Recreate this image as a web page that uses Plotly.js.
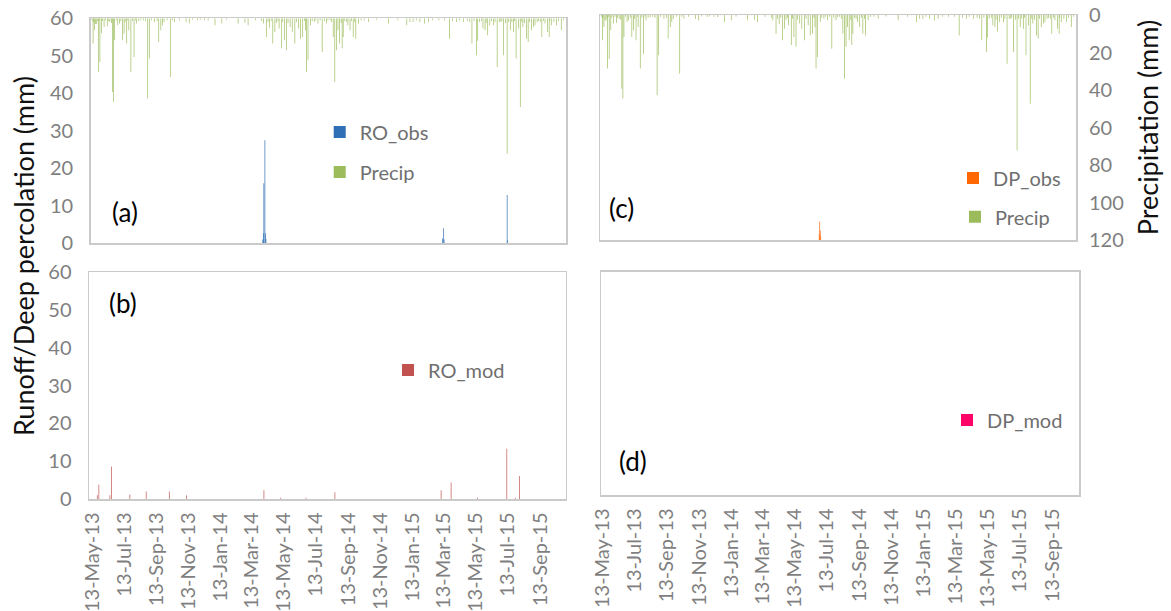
<!DOCTYPE html>
<html><head><meta charset="utf-8">
<script src="https://cdn.plot.ly/plotly-3.0.1.min.js"></script>
<style>html,body{margin:0;padding:0;background:#fff}#chart{width:1171px;height:611px}</style>
</head><body><div id="chart"></div>
<script>
// ---------------- data ----------------
const precipDates = [
'2013-05-13','2013-05-15','2013-05-16','2013-05-18','2013-05-20','2013-05-22','2013-05-24','2013-05-25','2013-05-27','2013-05-28','2013-05-31',
'2013-06-02','2013-06-05','2013-06-08','2013-06-11','2013-06-13','2013-06-16','2013-06-19','2013-06-21','2013-06-23','2013-06-25','2013-06-28',
'2013-07-01','2013-07-04','2013-07-07','2013-07-10','2013-07-13','2013-07-15','2013-07-18','2013-07-20','2013-07-22','2013-07-26','2013-07-29',
'2013-08-01','2013-08-04','2013-08-06','2013-08-10','2013-08-14','2013-08-19','2013-08-23','2013-08-27','2013-08-30',
'2013-09-03','2013-09-09','2013-09-14','2013-09-17','2013-09-21','2013-09-24','2013-09-27',
'2013-10-03','2013-10-09','2013-10-13','2013-10-17','2013-10-26','2013-11-08','2013-11-14','2013-11-20','2013-11-30','2013-12-05','2013-12-13','2013-12-20',
'2014-01-02','2014-01-15','2014-01-24','2014-02-15','2014-02-28','2014-03-06','2014-03-20',
'2014-04-01','2014-04-04','2014-04-10','2014-04-13','2014-04-16','2014-04-19','2014-04-22','2014-04-26','2014-04-29',
'2014-05-02','2014-05-04','2014-05-09','2014-05-11','2014-05-14','2014-05-18','2014-05-21','2014-05-25','2014-05-29',
'2014-06-03','2014-06-06','2014-06-10','2014-06-14','2014-06-18','2014-06-21','2014-06-23','2014-06-25','2014-06-28',
'2014-07-03','2014-07-06','2014-07-10','2014-07-13','2014-07-17','2014-07-21','2014-07-25','2014-07-29',
'2014-08-02','2014-08-05','2014-08-09','2014-08-12','2014-08-15','2014-08-18','2014-08-21','2014-08-24','2014-08-27','2014-08-30',
'2014-09-01','2014-09-03','2014-09-06','2014-09-09','2014-09-12','2014-09-16','2014-09-19','2014-09-22','2014-09-25','2014-09-27',
'2014-10-02','2014-10-07','2014-10-13','2014-10-21','2014-11-05','2014-11-28','2014-12-16',
'2015-01-02','2015-01-08','2015-01-14','2015-01-20','2015-01-27','2015-02-05','2015-02-12','2015-02-20',
'2015-03-04','2015-03-15','2015-03-24','2015-03-30','2015-04-07','2015-04-12','2015-04-20','2015-04-27',
'2015-05-02','2015-05-06','2015-05-10','2015-05-15','2015-05-17','2015-05-20','2015-05-24','2015-05-27','2015-05-31',
'2015-06-02','2015-06-05','2015-06-09','2015-06-12','2015-06-16','2015-06-19','2015-06-23','2015-06-27','2015-06-30',
'2015-07-02','2015-07-05','2015-07-09','2015-07-12','2015-07-15','2015-07-18','2015-07-21','2015-07-24','2015-07-26','2015-07-29',
'2015-08-03','2015-08-06','2015-08-09','2015-08-11','2015-08-14','2015-08-18','2015-08-21','2015-08-24','2015-08-27','2015-08-31',
'2015-09-03','2015-09-07','2015-09-10','2015-09-13','2015-09-16','2015-09-19','2015-09-22','2015-09-27','2015-09-30',
'2015-10-01','2015-10-04','2015-10-09','2015-10-14','2015-10-18','2015-10-23','2015-10-27'
];
const precipMm = [
1,13.5,2,6.4,3,3,1.5,28.6,1,23.3,8,
1.5,4.6,1,4.3,1.5,2,2.5,39.3,44.6,11.7,1,
3.7,2.8,1.5,11.7,8.2,2,13.5,1,6.4,28.6,1.5,
20.6,1,2.8,1.5,1.1,1,1.5,42.8,21.5,
1,2,1.5,12.6,6.4,3.7,2,
1,31.3,1,2,1,2,2.8,0.8,1.1,0.8,1.1,1.1,
3.7,2.8,0.8,2.8,2.5,3.7,1,
1.5,2.8,10,2,5,1.5,13.5,7.3,2.5,
1.5,5.5,16,2,11.7,17,2.5,4.6,7.3,
13.5,2,5.5,10.9,10,1.5,6.4,28.6,22.4,
3.7,1.5,2,1,2.8,1,18,1.5,
2.8,1.1,1,2,10,34,17,6.4,13.5,2.5,
16,10,1.5,2,3.7,6.4,1.5,10,2,10.9,
2.8,1,1,2,0.8,2.8,1,
3.7,2,2,1,2,2.8,2,1,
1,1,10.9,1.5,2,1,2,1.5,
2,13.5,1.5,19.7,12,2,1.5,5.5,6.4,
2.5,9,3.7,1.5,3.7,2,26,2,2,
1.5,19.7,2.5,72.2,2,6.4,2,7.3,1.5,21.5,
5.5,47.3,2,4.6,2.5,10.9,12.6,2,6.4,4.6,
3.7,2,1.5,2,10,1.5,2.8,7.3,10,
1.5,3.7,2,3.7,1.5,6.4,1
];
const roObsDates = ['2014-04-03','2014-04-04','2014-04-05','2014-04-07','2014-04-08','2014-04-09','2015-03-11','2015-03-13','2015-03-14','2015-07-12','2015-07-13'];
const roObsMm    = [1.0,2.7,16.0,27.5,2.7,1.2,1.3,4.0,1.0,12.9,0.8];
const roModDates = ['2013-05-23','2013-05-26','2013-06-16','2013-06-19','2013-07-24','2013-08-24','2013-10-07','2013-11-09','2014-04-05','2014-05-07','2014-06-24','2014-08-18','2015-03-08','2015-03-27','2015-05-16','2015-07-11','2015-07-27','2015-08-04'];
const roModMm    = [1.0,3.8,1.0,8.6,1.2,2.0,2.0,1.0,2.3,0.3,0.3,1.8,2.3,4.4,0.3,13.3,0.3,6.1];
const dpObsDates = ['2014-07-01','2014-07-02','2014-07-03','2014-07-04'];
const dpObsMm    = [1.5,4.9,2.5,1.0];
const dpModDates = ['2013-05-13','2015-10-31'];
const dpModMm    = [0,0];
const tickDates = ['2013-05-13','2013-07-13','2013-09-13','2013-11-13','2014-01-13','2014-03-13','2014-05-13','2014-07-13','2014-09-13','2014-11-13','2015-01-13','2015-03-13','2015-05-13','2015-07-13','2015-09-13'];
const panelLabels = ['(a)','(b)','(c)','(d)'];

// ---------------- layout helpers ----------------
const W = 1171, H = 611;
const px = v => v / W;
const py = v => 1 - v / H;
const DAY = 86400000;
const barW = 1.3 * DAY;             // daily bars narrower than a pixel, like the original
const FONT = 'Lato, "Open Sans", sans-serif';
const tickGray = '#7f7f7f';
const legGray = '#6f6f6f';
const frame = '#cacaca';

// alpha just under 1 keeps sub-pixel bars un-snapped (anti-aliased thin lines)
const C = {roObs:'rgba(46,109,180,0.99)', precip:'rgba(155,187,89,0.99)', roMod:'rgba(192,80,77,0.99)',
           dpObs:'rgba(255,102,0,0.99)', dpMod:'rgba(255,0,102,0.99)'};

function bar(name, x, y, xa, ya, color, leg) {
  return {type:'bar', name, x, y, xaxis:xa, yaxis:ya, width:barW,
          marker:{color, line:{width:0}}, legend:leg, showlegend:true, hoverinfo:'x+y'};
}
const traces = [
  bar('RO_obs', roObsDates, roObsMm, 'x', 'y', C.roObs, 'legend'),
  bar('Precip', precipDates, precipMm, 'x', 'y2', C.precip, 'legend2'),
  bar('DP_obs', dpObsDates, dpObsMm, 'x2', 'y3', C.dpObs, 'legend3'),
  bar('Precip', precipDates, precipMm, 'x2', 'y4', C.precip, 'legend4'),
  bar('RO_mod', roModDates, roModMm, 'x3', 'y5', C.roMod, 'legend5'),
  bar('DP_mod', dpModDates, dpModMm, 'x4', 'y6', C.dpMod, 'legend6')
];

const tickFont = {family:FONT, size:20, color:tickGray};
function xAxis(d0, d1, r0, r1, anchor, labels) {
  return {type:'date', domain:[px(d0), px(d1)], range:[r0, r1], anchor,
    showgrid:false, zeroline:false, showline:true, mirror:true, linecolor:frame, linewidth:1.5,
    ticks:'', tickmode:'array', tickvals:tickDates, tickformat:'%d-%b-%y', tickangle:-90,
    showticklabels:labels, tickfont:tickFont, ticklabelstandoff:4, fixedrange:true};
}
function yAxis(top, bottom, anchor, labels) {
  return {domain:[py(bottom), py(top)], range:[0, 60], dtick:10, tick0:0, anchor,
    showgrid:false, zeroline:false, showline:true, mirror:true, linecolor:frame, linewidth:1.5,
    ticks:'', showticklabels:labels, tickfont:tickFont, ticklabelstandoff:12, fixedrange:true};
}
function legendAt(textX, yc) {
  return {x:px(textX - 37), y:py(yc), xanchor:'left', yanchor:'middle', bgcolor:'rgba(0,0,0,0)',
          borderwidth:0, itemwidth:30, font:{family:FONT, size:20, color:legGray}, itemclick:false, itemdoubleclick:false};
}

const layout = {
  width:W, height:H, margin:{l:0, r:0, t:0, b:0}, paper_bgcolor:'#fff', plot_bgcolor:'rgba(0,0,0,0)',
  font:{family:FONT}, barmode:'overlay', bargap:0.2, showlegend:true,
  xaxis:  xAxis(90.7, 566, '2013-05-10 12:00', '2015-11-01', 'y', false),
  xaxis2: xAxis(600, 1076, '2013-05-10 12:00', '2015-11-01', 'y3', false),
  xaxis3: xAxis(89, 565.7, '2013-05-07 06:00', '2015-10-31', 'y5', true),
  xaxis4: xAxis(601, 1079, '2013-05-11', '2015-11-03', 'y6', true),
  yaxis:  yAxis(18.3, 243.3, 'x', true),
  yaxis2: {overlaying:'y', anchor:'x', side:'right', range:[120, 0], showgrid:false, zeroline:false,
           showline:false, showticklabels:false, ticks:'', fixedrange:true},
  yaxis3: yAxis(15, 240, 'x2', false),
  yaxis4: {overlaying:'y3', anchor:'x2', side:'right', range:[120, 0], dtick:20, tick0:0,
           showgrid:false, zeroline:false, showline:false, ticks:'', tickfont:tickFont, ticklabelstandoff:12,
           title:{text:'Precipitation (mm)', font:{family:FONT, size:27, color:'#111'}, standoff:16}, fixedrange:true},
  yaxis5: yAxis(272.3, 499, 'x3', true),
  yaxis6: yAxis(271.7, 495, 'x4', false),
  legend:  legendAt(356.7, 132),
  legend2: legendAt(356.7, 172),
  legend3: legendAt(990, 178),
  legend4: legendAt(992, 216.7),
  legend5: legendAt(425, 370),
  legend6: legendAt(984, 420),
  annotations: [
    {text:'Runoff/Deep percolation (mm)', xref:'paper', yref:'paper', x:px(23), y:py(256), textangle:-90,
     showarrow:false, xanchor:'center', yanchor:'middle', font:{family:FONT, size:27, color:'#111'}},
    ...[[125, 212], [123, 303], [621, 208], [633, 461]].map((p, i) => ({
      text:panelLabels[i], xref:'paper', yref:'paper', x:px(p[0]), y:py(p[1]), showarrow:false,
      xanchor:'center', yanchor:'middle', font:{family:FONT, size:26, color:'#000'}}))
  ]
};

Plotly.newPlot('chart', traces, layout, {staticPlot:true, displayModeBar:false});
</script>
</body></html>
